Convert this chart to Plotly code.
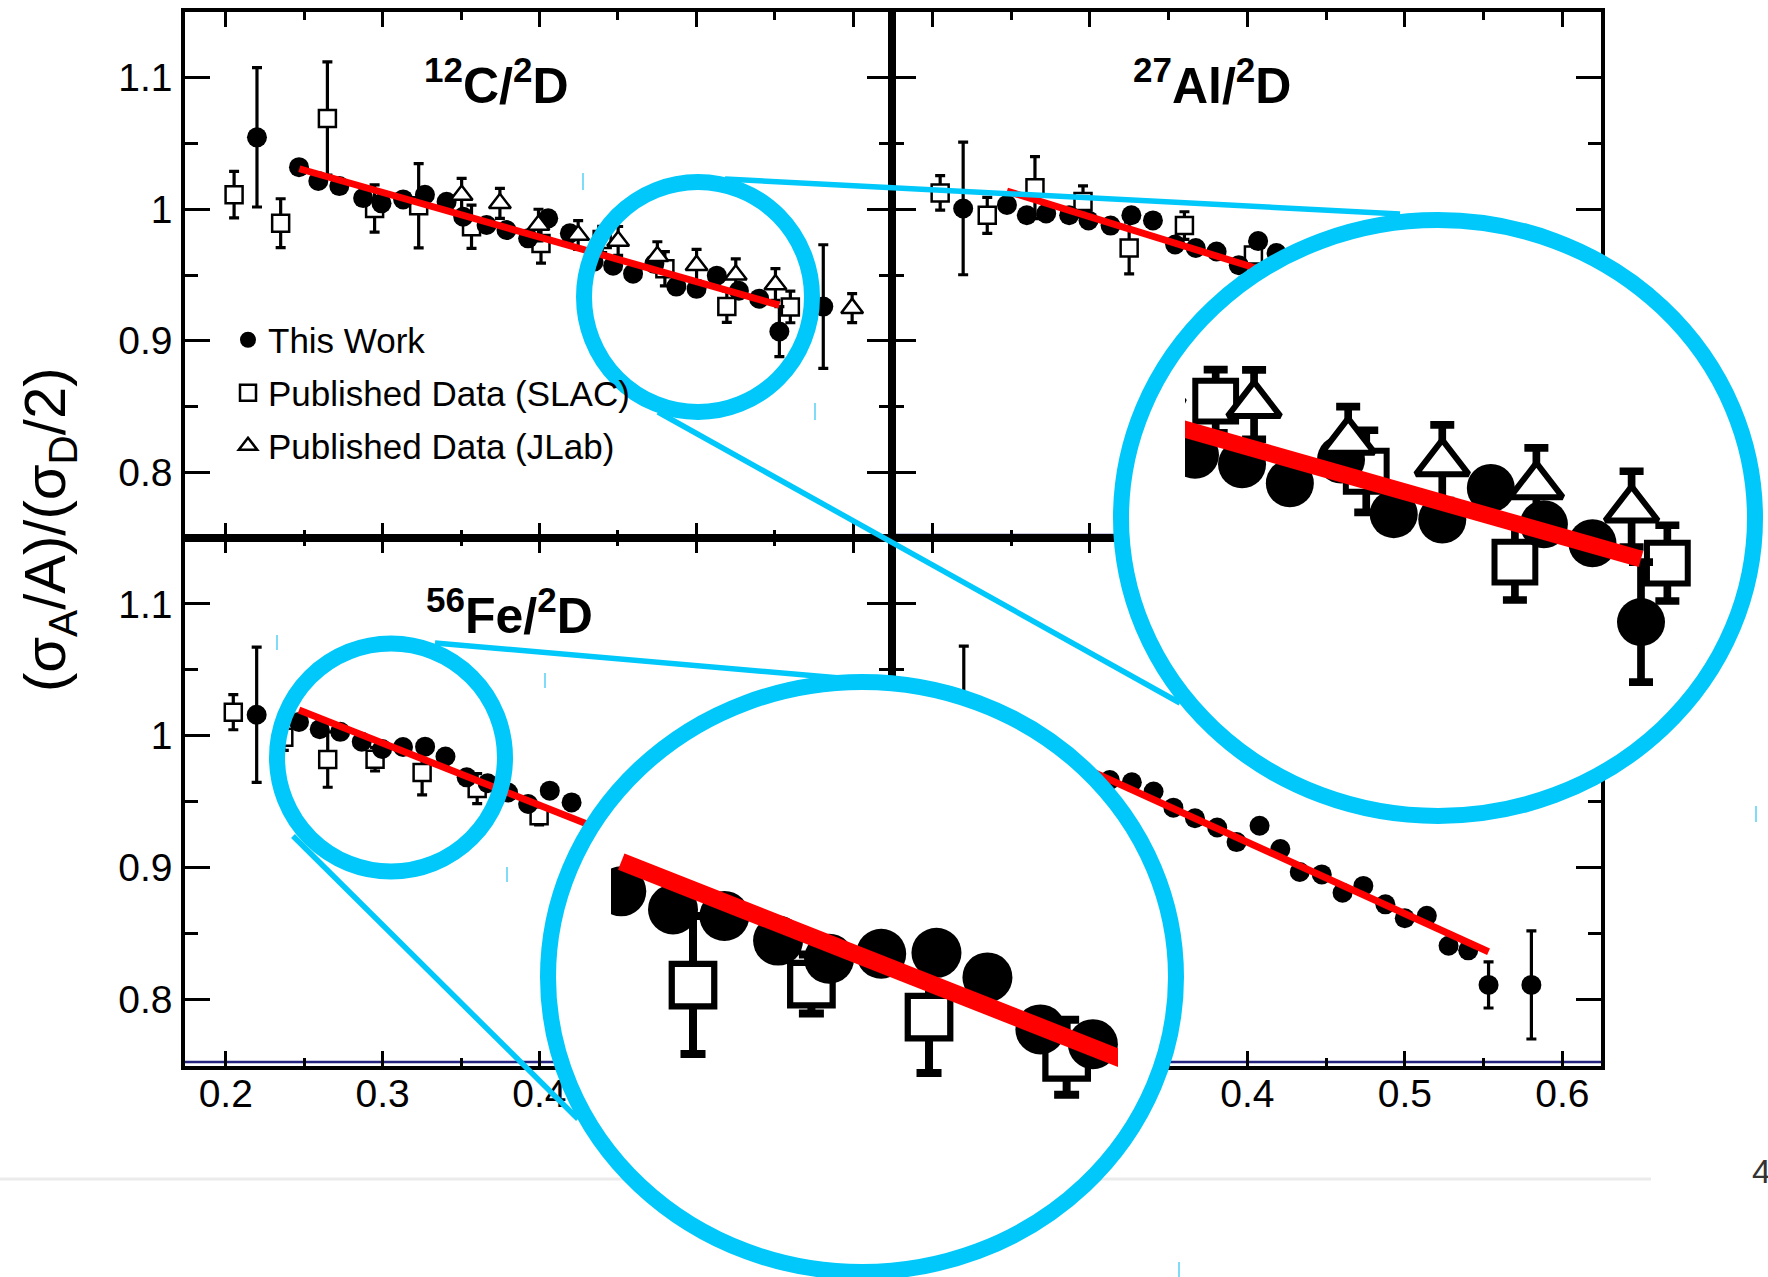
import numpy as np
import plotly.graph_objects as go

W, H = 1768, 1277
FONT = "Liberation Sans, Arial, Helvetica, sans-serif"
CYAN = "#00C8FA"
RED = "#FF0000"
NAVY = "#23237F"

# ---------------- per-nucleon cross-section ratios vs Bjorken x ----------------
# 12C / 2D
c_work_x = [0.2199, 0.2467, 0.2590, 0.2724, 0.2876, 0.2993, 0.3131, 0.3270, 0.3408, 0.3514, 0.3663, 0.3790, 0.3928,
            0.4056, 0.4194, 0.4345, 0.4470, 0.4597, 0.4733, 0.4873, 0.5002, 0.5131, 0.5272, 0.5401, 0.5530, 0.5810]
c_work_y = [1.0547, 1.0320, 1.0215, 1.0176, 1.0085, 1.0045, 1.0075, 1.0110, 1.0057, 0.9943, 0.9880, 0.9842, 0.9779,
            0.9931, 0.9817, 0.9600, 0.9570, 0.9510, 0.9585, 0.9412, 0.9395, 0.9495, 0.9380, 0.9320, 0.9070, 0.9260]
c_work_err = [0.053, 0.004, 0.004, 0.004, 0.004, 0.004, 0.004, 0.004, 0.004, 0.004, 0.004, 0.004, 0.004,
              0.004, 0.004, 0.004, 0.004, 0.004, 0.004, 0.004, 0.004, 0.004, 0.004, 0.004, 0.019, 0.047]
c_slac_x = [0.2053, 0.2350, 0.2648, 0.2949, 0.3230, 0.3567, 0.4010, 0.4400, 0.4800, 0.5195, 0.5600]
c_slac_y = [1.0111, 0.9894, 1.0690, 1.0006, 1.0027, 0.9867, 0.9740, 0.9770, 0.9548, 0.9260, 0.9257]
c_slac_err = [0.0177, 0.0186, 0.0430, 0.0180, 0.0320, 0.0164, 0.0150, 0.0100, 0.0130, 0.0120, 0.0120]
c_jlab_x = [0.3504, 0.3748, 0.3994, 0.4247, 0.4502, 0.4752, 0.5002, 0.5252, 0.5505, 0.5994]
c_jlab_y = [1.0108, 1.0045, 0.9880, 0.9804, 0.9759, 0.9643, 0.9575, 0.9502, 0.9428, 0.9248]
c_jlab_err = [0.0127, 0.0114, 0.0120, 0.0110, 0.0110, 0.0110, 0.0120, 0.0120, 0.0120, 0.0110]
c_fit_x = [0.2469, 0.5530]
c_fit_y = [1.0308, 0.9270]

# 27Al / 2D
al_work_x = [0.2195, 0.2473, 0.2599, 0.2722, 0.2868, 0.2991, 0.3131, 0.3263, 0.3400, 0.3541, 0.3672, 0.3804, 0.3945,
             0.4068, 0.4185]
al_work_y = [1.0006, 1.0033, 0.9954, 0.9968, 0.9954, 0.9915, 0.9876, 0.9954, 0.9915, 0.9732, 0.9705, 0.9679, 0.9575,
             0.9758, 0.9667]
al_work_err = [0.0504, 0.004, 0.004, 0.004, 0.004, 0.004, 0.004, 0.004, 0.004, 0.004, 0.004, 0.004, 0.004,
               0.004, 0.004]
al_slac_x = [0.2049, 0.2348, 0.2651, 0.2956, 0.3249, 0.3600, 0.4038]
al_slac_y = [1.0124, 0.9954, 1.0164, 1.0059, 0.9705, 0.9876, 0.9653]
al_slac_err = [0.0131, 0.0137, 0.0236, 0.0118, 0.0196, 0.0105, 0.0100]
al_fit_x = [0.2473, 0.5530]
al_fit_y = [1.0138, 0.9004]

# 56Fe / 2D
fe_work_x = [0.2197, 0.2467, 0.2599, 0.2730, 0.2867, 0.2997, 0.3130, 0.3271, 0.3401, 0.3536, 0.3670, 0.3800, 0.3928,
             0.4066, 0.4205]
fe_work_y = [1.0160, 1.0105, 1.0050, 1.0030, 0.9955, 0.9900, 0.9915, 0.9918, 0.9843, 0.9685, 0.9640, 0.9570, 0.9483,
             0.9584, 0.9495]
fe_work_err = [0.0513, 0.004, 0.004, 0.004, 0.004, 0.004, 0.004, 0.004, 0.004, 0.004, 0.004, 0.004, 0.004,
               0.004, 0.004]
fe_slac_x = [0.2048, 0.2370, 0.2650, 0.2952, 0.3252, 0.3603, 0.3998]
fe_slac_y = [1.0179, 0.9990, 0.9820, 0.9823, 0.9722, 0.9600, 0.9394]
fe_slac_err = [0.0133, 0.0100, 0.0210, 0.0090, 0.0170, 0.0114, 0.0070]
fe_fit_x = [0.2467, 0.5530]
fe_fit_y = [1.0195, 0.8755]

# 197Au / 2D
au_work_x = [0.2199, 0.3126, 0.3266, 0.3404, 0.3530, 0.3667, 0.3808, 0.3931, 0.4077, 0.4209, 0.4332, 0.4472, 0.4604,
             0.4736, 0.4876, 0.4999, 0.5139, 0.5277, 0.5402, 0.5531, 0.5803]
au_work_y = [1.0120, 0.9665, 0.9648, 0.9578, 0.9455, 0.9375, 0.9305, 0.9194, 0.9318, 0.9141, 0.8967, 0.8949, 0.8810,
             0.8862, 0.8722, 0.8617, 0.8635, 0.8408, 0.8373, 0.8111, 0.8111]
au_work_err = [0.0560, 0.004, 0.004, 0.004, 0.004, 0.004, 0.004, 0.004, 0.004, 0.004, 0.004, 0.004, 0.004,
               0.004, 0.004, 0.004, 0.004, 0.004, 0.004, 0.0175, 0.0410]
au_fit_x = [0.2470, 0.5531]
au_fit_y = [1.0023, 0.8363]

# axis ticks
x_ticks = [0.2, 0.3, 0.4, 0.5, 0.6]
x_ticktext = ["0.2", "0.3", "0.4", "0.5", "0.6"]
x_minor = [0.25, 0.35, 0.45, 0.55]
y_ticks = [0.8, 0.9, 1.0, 1.1]
y_ticktext = ["0.8", "0.9", "1", "1.1"]
y_minor = [0.85, 0.95, 1.05]

panel_titles = ["<b><sup>12</sup>C/<sup>2</sup>D</b>", "<b><sup>27</sup>Al/<sup>2</sup>D</b>",
                "<b><sup>56</sup>Fe/<sup>2</sup>D</b>"]

# ---------------- page geometry (pixels) ----------------
XR = [0.174, 0.6245]
YR = [0.75, 1.15]
COLS = [(185, 891.5), (891.5, 1601)]
ROWS = [(12, 538), (538, 1065.5)]
SX = (COLS[0][1] - COLS[0][0]) / (XR[1] - XR[0])   # px per unit x
SY = (ROWS[0][1] - ROWS[0][0]) / (YR[1] - YR[0])   # px per unit y


def fx(px):
    return px / W


def fy(py):
    return 1 - py / H


fig = go.Figure()


def add_series(xa, ya, k, work, slac=None, jlab=None, fit=None, legend=False):
    def eb(err):
        return dict(type="data", array=err, visible=True, color="black", thickness=3.2 * k, width=5 * k)

    if slac is not None:
        fig.add_trace(go.Scatter(
            x=slac[0], y=slac[1], error_y=eb(slac[2]), mode="markers",
            marker=dict(symbol="square", size=17 * k, color="white", line=dict(color="black", width=2.5 * k)),
            name="Published Data (SLAC)", legend="legend2", showlegend=legend,
            xaxis=xa, yaxis=ya, hoverinfo="skip"))
    fig.add_trace(go.Scatter(
        x=work[0], y=work[1], error_y=eb(work[2]), mode="markers",
        marker=dict(symbol="circle", size=20 * k, color="black", line=dict(width=0)),
        name="This Work", legend="legend", showlegend=legend,
        xaxis=xa, yaxis=ya, hoverinfo="skip"))
    if jlab is not None:
        fig.add_trace(go.Scatter(
            x=jlab[0], y=jlab[1], error_y=eb(jlab[2]), mode="markers",
            marker=dict(symbol="triangle-up", size=19 * k, color="white", line=dict(color="black", width=2.5 * k)),
            name="Published Data (JLab)", legend="legend3", showlegend=legend,
            xaxis=xa, yaxis=ya, hoverinfo="skip"))
    if fit is not None:
        fig.add_trace(go.Scatter(
            x=fit[0], y=fit[1], mode="lines", line=dict(color=RED, width=7 * k),
            showlegend=False, xaxis=xa, yaxis=ya, hoverinfo="skip"))


C = dict(work=(c_work_x, c_work_y, c_work_err), slac=(c_slac_x, c_slac_y, c_slac_err),
         jlab=(c_jlab_x, c_jlab_y, c_jlab_err), fit=(c_fit_x, c_fit_y))
AL = dict(work=(al_work_x, al_work_y, al_work_err), slac=(al_slac_x, al_slac_y, al_slac_err),
          fit=(al_fit_x, al_fit_y))
FE = dict(work=(fe_work_x, fe_work_y, fe_work_err), slac=(fe_slac_x, fe_slac_y, fe_slac_err),
          fit=(fe_fit_x, fe_fit_y))
AU = dict(work=(au_work_x, au_work_y, au_work_err), fit=(au_fit_x, au_fit_y))

# four main panels
add_series("x", "y", 1, legend=True, **C)
add_series("x2", "y2", 1, **AL)
add_series("x3", "y3", 1, **FE)
add_series("x4", "y4", 1, **AU)

layout = dict(
    width=W, height=H, margin=dict(l=0, r=0, t=0, b=0),
    paper_bgcolor="white", plot_bgcolor="rgba(0,0,0,0)",
    showlegend=True, hovermode=False,
)

axis_common = dict(showline=True, linecolor="black", linewidth=3.5, mirror="ticks", ticks="inside",
                   tickcolor="black", tickwidth=3, showgrid=False, zeroline=False, fixedrange=True,
                   tickfont=dict(family=FONT, size=39, color="black"))
panels = [(0, 0), (1, 0), (0, 1), (1, 1)]
for n, (col, row) in enumerate(panels, start=1):
    sfx = "" if n == 1 else str(n)
    c0, c1 = COLS[col]
    r0, r1 = ROWS[row]
    layout["xaxis" + sfx] = dict(
        axis_common, domain=[fx(c0), fx(c1)], range=XR, anchor="y" + sfx,
        tickmode="array", tickvals=x_ticks, ticktext=x_ticktext, ticklen=15,
        showticklabels=(row == 1), ticklabelstandoff=-9,
        minor=dict(tickmode="array", tickvals=x_minor, ticks="inside", ticklen=8, tickwidth=3, tickcolor="black"))
    layout["yaxis" + sfx] = dict(
        axis_common, domain=[fy(r1), fy(r0)], range=YR, anchor="x" + sfx,
        tickmode="array", tickvals=y_ticks, ticktext=y_ticktext, ticklen=25,
        showticklabels=(col == 0), ticklabelstandoff=1,
        minor=dict(tickmode="array", tickvals=y_minor, ticks="inside", ticklen=13, tickwidth=3, tickcolor="black"))

# ---------------- magnifier insets ----------------
t = np.linspace(0, 2 * np.pi, 241)
hidden = dict(visible=False, fixedrange=True)


def add_backdrop(n, box):
    x0, y0, x1, y1 = box
    layout[f"xaxis{n}"] = dict(hidden, domain=[fx(x0), fx(x1)], range=[-1, 1], anchor=f"y{n}")
    layout[f"yaxis{n}"] = dict(hidden, domain=[fy(y1), fy(y0)], range=[-1, 1], anchor=f"x{n}")
    fig.add_trace(go.Scatter(x=np.cos(t), y=np.sin(t), fill="toself", fillcolor="white", mode="lines",
                             line=dict(color="white", width=1), showlegend=False,
                             xaxis=f"x{n}", yaxis=f"y{n}", hoverinfo="skip"))


def add_lens(n, crop, anchor_px, anchor_val, mag):
    x0, y0, x1, y1 = crop
    ax_px, ay_px = anchor_px
    vx, vy = anchor_val
    kx, ky = SX * mag, SY * mag
    layout[f"xaxis{n}"] = dict(hidden, domain=[fx(x0), fx(x1)], anchor=f"y{n}",
                               range=[vx + (x0 - ax_px) / kx, vx + (x1 - ax_px) / kx])
    layout[f"yaxis{n}"] = dict(hidden, domain=[fy(y1), fy(y0)], anchor=f"x{n}",
                               range=[vy - (y1 - ay_px) / ky, vy + (ay_px - y0) / ky])


TOP_RING = (1438, 518, 317, 298)     # cx, cy, rx, ry (ring centre line)
BOT_RING = (862, 977, 314, 295)
SMALL_TOP = (698, 297, 114, 115)
SMALL_BOT = (391, 757.5, 114, 114)


def ring_box(r):
    cx, cy, rx, ry = r
    return (cx - rx, cy - ry, cx + rx, cy + ry)


add_backdrop(5, ring_box(TOP_RING))
add_lens(6, (1185, 300, 1700, 760), (1641, 559), (0.553, 0.927), 2.4)
add_series("x6", "y6", 2.4, **C)

add_backdrop(7, ring_box(BOT_RING))
add_lens(8, (611, 760, 1118, 1200), (693, 985), (0.265, 0.982), 2.5)
add_series("x8", "y8", 2.5, **FE)

# ---------------- legends ----------------
leg_font = dict(family=FONT, size=35, color="black")


def leg(py):
    return dict(x=fx(228), y=fy(py), xanchor="left", yanchor="middle", font=leg_font,
                bgcolor="rgba(0,0,0,0)", borderwidth=0, itemsizing="trace")


layout["legend"] = leg(340)
layout["legend2"] = leg(393)
layout["legend3"] = leg(446)

# ---------------- shapes ----------------
shapes = []
# page separator and bottom-frame accent lines (sit under the lenses)
shapes.append(dict(type="line", xref="paper", yref="paper", x0=0, x1=fx(1651), y0=fy(1179), y1=fy(1179),
                   line=dict(color="#EBEBEB", width=3), layer="below"))
shapes.append(dict(type="line", xref="paper", yref="paper", x0=fx(185), x1=fx(1601), y0=fy(1062), y1=fy(1062),
                   line=dict(color=NAVY, width=2.5), layer="below"))
shapes.append(dict(type="line", xref="paper", yref="paper", x0=fx(892), x1=fx(1601), y0=fy(535), y1=fy(535),
                   line=dict(color=NAVY, width=2.5), layer="below"))

for r in (SMALL_TOP, SMALL_BOT, TOP_RING, BOT_RING):
    bx0, by0, bx1, by1 = ring_box(r)
    shapes.append(dict(type="circle", xref="paper", yref="paper", x0=fx(bx0), x1=fx(bx1), y0=fy(by1), y1=fy(by0),
                       line=dict(color=CYAN, width=16), fillcolor="rgba(0,0,0,0)", layer="above"))

for (ax0, ay0, ax1, ay1) in [(725, 179, 1400, 214), (658, 412, 1180, 703),
                             (435, 643, 840, 678), (293, 836, 578, 1119)]:
    shapes.append(dict(type="line", xref="paper", yref="paper", x0=fx(ax0), y0=fy(ay0), x1=fx(ax1), y1=fy(ay1),
                       line=dict(color=CYAN, width=5.5), layer="above"))

# small selection-handle marks at lens corners
for (hx, hy0, hy1) in [(583, 173, 190), (815, 403, 420), (277, 635, 650), (545, 673, 688),
                       (507, 867, 882), (1756, 806, 822), (1179, 1262, 1277)]:
    shapes.append(dict(type="line", xref="paper", yref="paper", x0=fx(hx), x1=fx(hx), y0=fy(hy0), y1=fy(hy1),
                       line=dict(color="#7FDBF7", width=2), layer="above"))

layout["shapes"] = shapes

# ---------------- text ----------------
ann = []
for txt, (cx, cy) in zip(panel_titles, [(496, 82), (1212, 82), (510, 612)]):
    ann.append(dict(text=txt, x=fx(cx), y=fy(cy), xref="paper", yref="paper", xanchor="center",
                    yanchor="middle", showarrow=False, font=dict(family=FONT, size=50, color="black")))
ann.append(dict(text="(σ<sub>A</sub>/A)/(σ<sub>D</sub>/2)", x=fx(49), y=fy(530), xref="paper", yref="paper",
                xanchor="center", yanchor="middle", textangle=-90, showarrow=False,
                font=dict(family=FONT, size=58, color="black")))
ann.append(dict(text="4", x=fx(1750), y=fy(1171), xref="paper", yref="paper", xanchor="left", yanchor="middle",
                showarrow=False, font=dict(family=FONT, size=34, color="#333333")))
layout["annotations"] = ann

fig.update_layout(**layout)
fig.write_html("out.html")
